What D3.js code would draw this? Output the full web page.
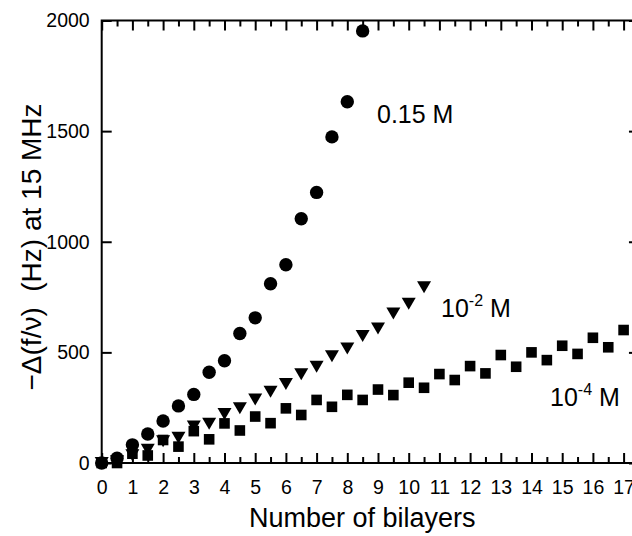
<!DOCTYPE html>
<html><head><meta charset="utf-8">
<script src="https://cdn.jsdelivr.net/npm/d3@7"></script>
<style>
html,body{margin:0;padding:0;background:#fff;}
svg{display:block;font-family:"Liberation Sans",Arial,sans-serif;}
</style></head><body>
<svg id="c" width="632" height="536"></svg>
<script>
// ---- data ----
const xCircle = [0,0.5,1,1.5,2,2.5,3,3.5,4,4.5,5,5.5,6,6.5,7,7.5,8,8.5];
const yCircle = [0,22,82,131,190,258,310,410,462,585,656,810,896,1104,1223,1474,1633,1953];
const xTri = [0,0.5,1,1.5,2,2.5,3,3.5,4,4.5,5,5.5,6,6.5,7,7.5,8,8.5,9,9.5,10,10.5];
const yTri = [0,8,35,60,98,114,165,177,222,247,287,322,357,401,435,483,518,574,608,676,720,794];
const xSq = [0,0.5,1,1.5,2,2.5,3,3.5,4,4.5,5,5.5,6,6.5,7,7.5,8,8.5,9,9.5,10,10.5,11,11.5,12,12.5,13,13.5,14,14.5,15,15.5,16,16.5,17];
const ySq = [0,0,42,34,104,74,144,107,179,147,210,180,247,217,285,254,308,285,332,307,363,340,402,375,438,405,488,435,500,465,530,493,566,523,601];
const xTicks = d3.range(0,18,1);
const xMinor = d3.range(0.5,17.5,1);
const yTicks = [0,500,1000,1500,2000];

const svg = d3.select("#c");
const L = 101.7, T = 20.5, W = 17.5*30.7, H = 442.5;
const x = d3.scaleLinear().domain([0,17.5]).range([L, L+W]);
const y = d3.scaleLinear().domain([0,2000]).range([T+H, T]);

const g = svg.append("g");
// frame
g.append("rect").attr("x",L).attr("y",T).attr("width",W).attr("height",H)
  .attr("fill","none").attr("stroke","#000").attr("stroke-width",2);

function styleAxis(sel){
  sel.select(".domain").remove();
  sel.selectAll(".tick line").attr("stroke","#000").attr("stroke-width",2);
  sel.selectAll(".tick text").attr("font-size",19.5).attr("fill","#000")
     .attr("font-family","Liberation Sans, Arial, sans-serif");
}
// bottom axis
const bx = g.append("g").attr("transform",`translate(0,${T+H})`)
  .call(d3.axisBottom(x).tickValues(xTicks).tickSize(-10).tickPadding(17).tickFormat(d3.format("d")));
styleAxis(bx);
g.append("g").attr("transform",`translate(0,${T+H})`)
  .call(d3.axisBottom(x).tickValues(xMinor).tickSize(-6).tickFormat(""))
  .call(s=>{s.select(".domain").remove(); s.selectAll("line").attr("stroke","#000").attr("stroke-width",2);});
// top axis
g.append("g").attr("transform",`translate(0,${T})`)
  .call(d3.axisTop(x).tickValues(xTicks).tickSize(-10).tickFormat(""))
  .call(s=>{s.select(".domain").remove(); s.selectAll("line").attr("stroke","#000").attr("stroke-width",2);});
g.append("g").attr("transform",`translate(0,${T})`)
  .call(d3.axisTop(x).tickValues(xMinor).tickSize(-6).tickFormat(""))
  .call(s=>{s.select(".domain").remove(); s.selectAll("line").attr("stroke","#000").attr("stroke-width",2);});
// left axis
const ly = g.append("g").attr("transform",`translate(${L},0)`)
  .call(d3.axisLeft(y).tickValues(yTicks).tickSize(-10).tickPadding(12).tickFormat(d3.format("d")));
styleAxis(ly);
// right axis
g.append("g").attr("transform",`translate(${L+W},0)`)
  .call(d3.axisRight(y).tickValues(yTicks).tickSize(-10).tickFormat(""))
  .call(s=>{s.select(".domain").remove(); s.selectAll("line").attr("stroke","#000").attr("stroke-width",2);});

// markers
const circles = xCircle.map((v,i)=>({x:v,y:yCircle[i]}));
const tris = xTri.map((v,i)=>({x:v,y:yTri[i]}));
const sqs = xSq.map((v,i)=>({x:v,y:ySq[i]}));

g.append("g").selectAll("circle").data(circles).join("circle")
  .attr("cx",d=>x(d.x)).attr("cy",d=>y(d.y)).attr("r",6.7).attr("fill","#000");
g.append("g").selectAll("path").data(tris).join("path")
  .attr("transform",d=>`translate(${x(d.x)},${y(d.y)})`)
  .attr("d","M-7,-6L7,-6L0,6Z").attr("fill","#000");
g.append("g").selectAll("rect").data(sqs).join("rect")
  .attr("x",d=>x(d.x)-5.3).attr("y",d=>y(d.y)-5.3).attr("width",10.6).attr("height",10.6).attr("fill","#000");

// series labels
const lab = (tx,ty,parts)=>{
  const t = g.append("text").attr("x",tx).attr("y",ty).attr("font-size",25).attr("fill","#000");
  parts.forEach(p=>{
    const s = t.append("tspan").text(p.t);
    if(p.sup){ s.attr("font-size",16).attr("dy",-11); }
    if(p.down){ s.attr("dy",11); }
  });
};
lab(377,123,[{t:"0.15 M"}]);
lab(441,317,[{t:"10"},{t:"-2",sup:true},{t:" M",down:true}]);
lab(550,406,[{t:"10"},{t:"-4",sup:true},{t:" M",down:true}]);

// axis titles
svg.append("text").attr("x",L+W/2 - 8).attr("y",527).attr("text-anchor","middle")
  .attr("font-size",27).attr("fill","#000").text("Number of bilayers");
svg.append("text").attr("transform","translate(41,247) rotate(-90)").attr("text-anchor","middle")
  .attr("font-size",28).attr("fill","#000").attr("xml:space","preserve").text("\u2212\u0394(f/\u03bd)  (Hz) at 15 MHz");
</script>
</body></html>
